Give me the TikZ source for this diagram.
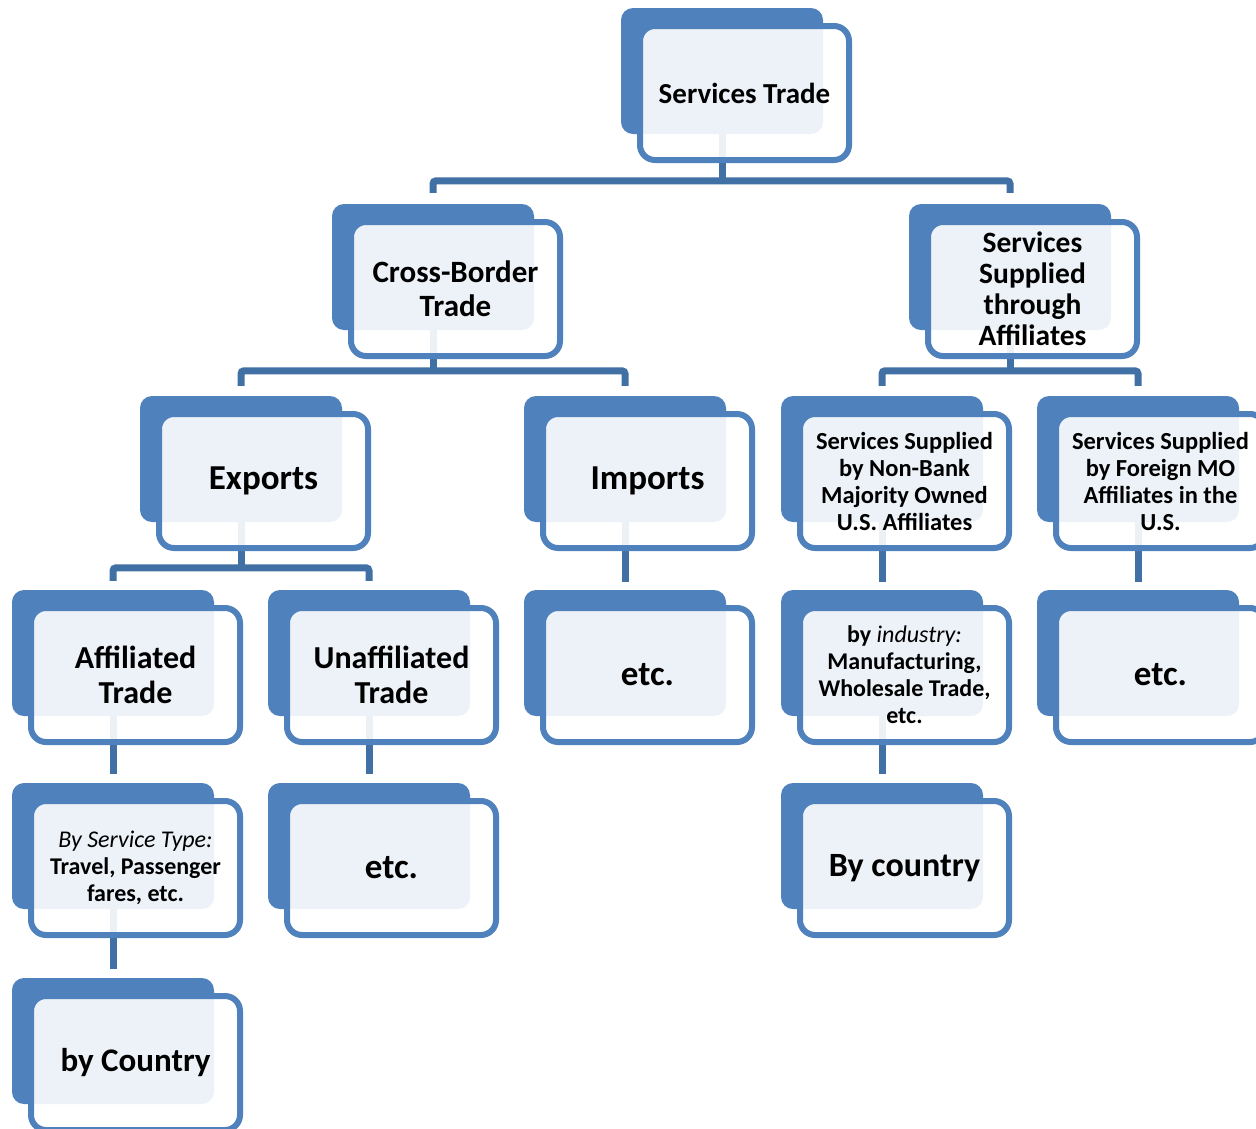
\documentclass[tikz,border=0pt]{standalone}
\usepackage{fontspec}
\setmainfont{Carlito}
\usetikzlibrary{calc}
\pgfdeclarelayer{bottom}
\pgfdeclarelayer{bg}
\pgfsetlayers{bottom,bg,main}
\definecolor{boxblue}{RGB}{79,129,189}
\definecolor{linkblue}{RGB}{65,113,164}
\tikzset{
  backbox/.style={rectangle, rounded corners=12pt, fill=boxblue, minimum width=202pt, minimum height=126pt, inner sep=0pt},
  frontbox/.style={rectangle, rounded corners=15pt, draw=boxblue, line width=6pt, fill=white, fill opacity=0.9, text opacity=1, draw opacity=1, minimum width=209pt, minimum height=134pt, inner sep=0pt, align=center, text=black},
  conn/.style={draw=linkblue, line width=7pt, rounded corners=3pt},
}
\newcommand\mknode[5]{%
  \node[backbox] (#1b) at (#2+101, -#3-63) {};
  \node[frontbox, font={\bfseries#4}] (#1) at (#2+123.5, -#3-85) {#5};
}
\begin{document}
\begin{tikzpicture}[x=1pt, y=1pt]
\useasboundingbox (0,0) rectangle (1256,-1128);
\begin{pgfonlayer}{bottom}
\fill[white] (0,0) rectangle (1256,-1128);
\end{pgfonlayer}
\clip (0,0) rectangle (1256,-1128);
% row 1
\mknode{n1}{621}{8}{\fontsize{29}{32}\selectfont}{Services Trade}
% row 2
\mknode{n2}{332}{204}{\fontsize{31}{34}\selectfont}{Cross-Border\\Trade}
\mknode{n3}{909}{204}{\fontsize{29.5}{31}\selectfont}{Services\\Supplied\\through\\Affiliates}
% row 3
\mknode{n4}{140}{396}{\fontsize{35}{38}\selectfont}{Exports}
\mknode{n5}{524}{396}{\fontsize{35}{38}\selectfont}{Imports}
\mknode{n6}{781}{396}{\fontsize{24.5}{27}\selectfont}{Services Supplied\\by Non-Bank\\Majority Owned\\U.S. Affiliates}
\mknode{n7}{1037}{396}{\fontsize{24.5}{27}\selectfont}{Services Supplied\\by Foreign MO\\Affiliates in the\\U.S.}
% row 4
\mknode{n8}{12}{590}{\fontsize{32}{35}\selectfont}{Affiliated\\Trade}
\mknode{n9}{268}{590}{\fontsize{32}{35}\selectfont}{Unaffiliated\\Trade}
\mknode{n10}{524}{590}{\fontsize{35}{38}\selectfont}{etc.}
\mknode{n11}{781}{590}{\fontsize{24}{27}\selectfont}{by {\mdseries\itshape industry:}\\Manufacturing,\\Wholesale Trade,\\etc.}
\mknode{n12}{1037}{590}{\fontsize{35}{38}\selectfont}{etc.}
% row 5
\mknode{n13}{12}{783}{\fontsize{24}{27}\selectfont}{{\mdseries\itshape By Service Type:}\\Travel, Passenger\\fares, etc.}
\mknode{n14}{268}{783}{\fontsize{35}{38}\selectfont}{etc.}
\mknode{n15}{781}{783}{\fontsize{34}{37}\selectfont}{By country}
% row 6
\mknode{n16}{12}{978}{\fontsize{33}{36}\selectfont}{by Country}
% connectors
\begin{pgfonlayer}{bg}
\coordinate (h1) at ($(n2b.north)+(0,23)$);
\draw[conn] ($(n2b.north)+(0,11)$) -- (h1) -| ($(n3b.north)+(0,11)$);
\draw[conn] (n1b.center) -- (n1b.center |- h1);
\coordinate (h2) at ($(n4b.north)+(0,25)$);
\draw[conn] ($(n4b.north)+(0,10)$) -- (h2) -| ($(n5b.north)+(0,10)$);
\draw[conn] (n2b.center) -- (n2b.center |- h2);
\coordinate (h3) at ($(n6b.north)+(0,25)$);
\draw[conn] ($(n6b.north)+(0,10)$) -- (h3) -| ($(n7b.north)+(0,10)$);
\draw[conn] (n3b.center) -- (n3b.center |- h3);
\coordinate (h4) at ($(n8b.north)+(0,22)$);
\draw[conn] ($(n8b.north)+(0,9)$) -- (h4) -| ($(n9b.north)+(0,9)$);
\draw[conn] (n4b.center) -- (n4b.center |- h4);
\draw[conn] (n5b.center) -- ($(n10b.north)+(0,8)$);
\draw[conn] (n6b.center) -- ($(n11b.north)+(0,8)$);
\draw[conn] (n7b.center) -- ($(n12b.north)+(0,8)$);
\draw[conn] (n8b.center) -- ($(n13b.north)+(0,9)$);
\draw[conn] (n9b.center) -- ($(n14b.north)+(0,9)$);
\draw[conn] (n11b.center) -- ($(n15b.north)+(0,9)$);
\draw[conn] (n13b.center) -- ($(n16b.north)+(0,9)$);
\end{pgfonlayer}
\end{tikzpicture}
\end{document}
